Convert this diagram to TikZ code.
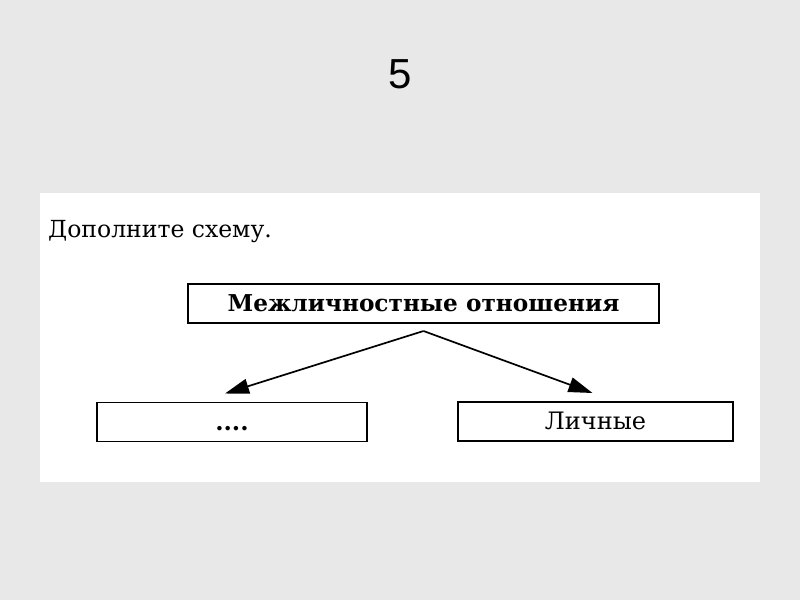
\documentclass[tikz,border=0pt]{standalone}
\usepackage{fontspec}
\setmainfont{DejaVu Serif}
\newfontfamily\numfont{Liberation Sans}
\usetikzlibrary{arrows.meta,positioning}

\begin{document}
\begin{tikzpicture}[x=1pt,y=-1pt,
  block/.style={draw,rectangle,line width=1.8pt,minimum height=39pt,inner sep=0pt,outer sep=0pt,
    font=\fontsize{24}{28}\selectfont,text height=17pt,text depth=1pt},
  link/.style={line width=1.7pt,-{Triangle[length=24pt,width=15pt]}}]

        % background and sheet
        \useasboundingbox (0,0) rectangle (800,600);
        \fill[gray!18] (0,0) rectangle (800,600);
        \fill[white] (40,193) rectangle (760,482);

        \node (N) at (400,74) {\numfont\fontsize{42}{42}\selectfont 5};
        \node (Q) [anchor=base west,inner sep=0pt] at (48,237) {\fontsize{23.5}{28}\selectfont Дополните схему.};

        \node (T) [block,minimum width=471pt] at (423.5,303.5) {\fontsize{23.2}{28}\selectfont\bfseries Межличностные отношения};
        \node (L) [block,minimum width=270pt] at (232,422) {\bfseries ....};
        \node (R) [block,minimum width=275pt] at (595.5,421.5) {Личные};

        \coordinate[below=8pt of T.south] (S);
        \coordinate[above left=9pt and 7pt of L.north] (A);
        \coordinate[above left=9pt and 3pt of R.north] (B);
        \draw[link] (S) -- (A);
        \draw[link] (S) -- (B);
      \end{tikzpicture}
\end{document}
